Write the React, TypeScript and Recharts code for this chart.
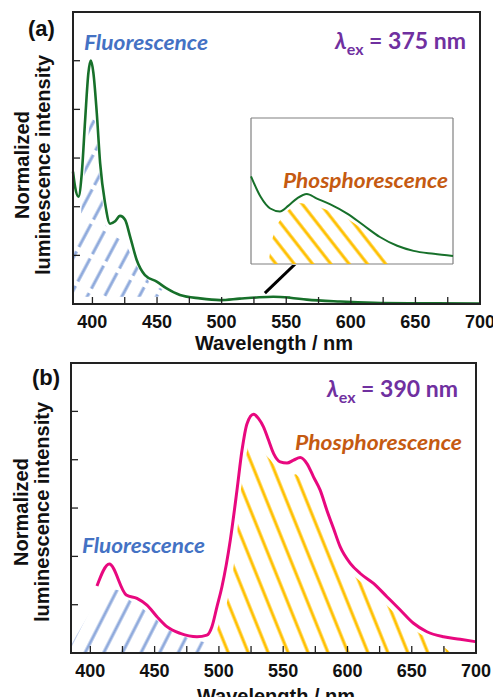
import { ComposedChart, Line, Area, XAxis, YAxis, ReferenceLine, CartesianGrid } from 'recharts'

// wavelength axis, shared by both panels
const X_MIN = 385
const X_MAX = 700
const Y_MAX = 1.2
const X_TICKS = [400, 425, 450, 475, 500, 525, 550, 575, 600, 625, 650, 675, 700]
const Y_TICKS = [0.2, 0.4, 0.6, 0.8, 1.0]

// (a) emission, excitation 375 nm
const wlA = [385, 386.6, 389.2, 391.8, 394.4, 396.9, 398.8, 400.8, 403.4, 406, 409.8, 413.7, 417.6, 421.4, 425.3, 429.2, 434.3, 440.7, 449.8, 457.5, 467.8, 483.3, 498.8, 514, 527, 540, 553, 566, 592, 618, 650, 700]
const intA = [0.544, 0.482, 0.441, 0.537, 0.757, 0.949, 1.0, 0.949, 0.785, 0.579, 0.415, 0.33, 0.34, 0.362, 0.346, 0.277, 0.181, 0.119, 0.092, 0.064, 0.037, 0.023, 0.016, 0.022, 0.027, 0.03, 0.026, 0.018, 0.01, 0.005, 0.003, 0.002]
const fluorHatchWlA = [385, 390, 394, 398, 400.5, 403, 406, 410, 414, 420, 424, 430, 435, 445, 458, 461]
const fluorHatchA = [0.25, 0.3, 0.55, 0.75, 0.82, 0.7, 0.5, 0.33, 0.27, 0.28, 0.27, 0.2, 0.15, 0.085, 0.05, 0.03]

// (a) inset, zoom on the phosphorescence band
const insetWl = [490, 500, 510, 520, 529, 538, 548, 558, 572, 590, 607, 624, 642, 659, 680, 700]
const insetInt = [0.6, 0.46, 0.38, 0.36, 0.4, 0.45, 0.48, 0.45, 0.41, 0.345, 0.265, 0.185, 0.125, 0.09, 0.07, 0.055]
const insetHatchWl = [508, 512, 517, 527, 539, 557, 588, 624, 641]
const insetHatch = [0, 0.17, 0.27, 0.36, 0.42, 0.4, 0.32, 0.16, 0]

// (b) emission, excitation 390 nm
const wlB = [405.2, 414.8, 428, 436.3, 444.1, 451.9, 459.6, 470, 483, 490.7, 494.6, 498.5, 502.4, 508.9, 514.1, 518, 521.9, 527, 530.9, 534.8, 538.7, 542.6, 547.7, 553, 558.1, 563.3, 568.5, 573.6, 578.8, 584, 589.2, 594.4, 602.2, 610, 620.3, 630.7, 641.1, 651.4, 661.8, 674.7, 687.7, 699.4]
const intB = [0.277, 0.368, 0.24, 0.226, 0.198, 0.15, 0.109, 0.081, 0.067, 0.074, 0.109, 0.191, 0.274, 0.467, 0.674, 0.839, 0.949, 0.988, 0.97, 0.935, 0.88, 0.825, 0.791, 0.786, 0.798, 0.809, 0.784, 0.729, 0.674, 0.591, 0.515, 0.439, 0.371, 0.329, 0.288, 0.233, 0.178, 0.123, 0.088, 0.067, 0.057, 0.047]
const fluorHatchWlB = [385, 389, 411, 422, 430, 439, 449, 459, 471, 481, 489, 491]
const fluorHatchB = [0.03, 0.07, 0.27, 0.26, 0.22, 0.19, 0.15, 0.1, 0.07, 0.055, 0.045, 0]
const phosHatchWlB = [493, 500, 506, 511, 513, 517, 520.5, 524, 540, 550, 560, 574, 589, 605, 620, 632, 645, 658, 670, 681]
const phosHatchB = [0, 0.12, 0.2, 0.34, 0.42, 0.67, 0.8, 0.89, 0.8, 0.73, 0.74, 0.67, 0.46, 0.32, 0.25, 0.19, 0.12, 0.075, 0.045, 0]

const rows = (wl: number[], v: number[]) => wl.map((w, i) => ({ wl: w, v: v[i] }))

const AXIS_FONT = { fill: '#111', fontSize: 18, fontWeight: 700, fontFamily: 'Liberation Sans, Arial, sans-serif' }
const NOTE_FONT = 'Lato, "Open Sans", sans-serif'
const BLUE_HATCH = '#8FAADC'
const ORANGE_HATCH = '#FFC000'
const FRAME = '#222'

// page layout: plot boxes of both panels, chart margins are derived from these
const W = 493
const X_AXIS_H = 30
const Y_AXIS_W = 1
const A = { top: 0, height: 345, left: 73, right: 480, plotTop: 12, plotBottom: 304 }
const B = { top: 340, height: 357, left: 71, right: 476, plotTop: 363, plotBottom: 653 }
const marginOf = (p: typeof A) => ({
  top: p.plotTop - p.top,
  right: W - p.right,
  left: p.left - Y_AXIS_W,
  bottom: p.top + p.height - p.plotBottom - X_AXIS_H,
})

const edgeRows = ({ offset }: any) => [offset.top, offset.top + offset.height]
const edgeCols = ({ offset }: any) => [offset.left, offset.left + offset.width]

function HatchDef({ id, color, gap, angle, dash }: { id: string; color: string; gap: number; angle: number; dash?: string }) {
  return (
    <pattern id={id} patternUnits="userSpaceOnUse" width={gap} height={31} patternTransform={`rotate(${angle})`}>
      <line x1={2} y1={0} x2={2} y2={31} stroke={color} strokeWidth={3} strokeDasharray={dash} />
    </pattern>
  )
}

const fmt50 = (v: number) => (v % 50 === 0 ? String(v) : '')

// box with inward ticks around a plot area, as filled bars
function PlotBox({ p }: { p: typeof A }) {
  const sx = (v: number) => p.left + ((v - X_MIN) / (X_MAX - X_MIN)) * (p.right - p.left)
  const sy = (v: number) => p.plotBottom - (v / Y_MAX) * (p.plotBottom - p.plotTop)
  const w = p.right - p.left
  const h = p.plotBottom - p.plotTop
  return (
    <g fill={FRAME} stroke="none">
      <rect x={p.left - 1} y={p.plotTop - 1} width={w + 2} height={2} />
      <rect x={p.left - 1} y={p.plotBottom - 1} width={w + 2} height={2} />
      <rect x={p.left - 1} y={p.plotTop - 1} width={2} height={h + 2} />
      <rect x={p.right - 1} y={p.plotTop - 1} width={2} height={h + 2} />
      {X_TICKS.map((t) => (
        <rect key={`x${t}`} x={sx(t) - 0.6} y={p.plotBottom - 7} width={1.3} height={7} />
      ))}
      {Y_TICKS.map((t) => (
        <rect key={`y${t}`} x={p.left} y={sy(t) - 0.6} width={7} height={1.3} />
      ))}
    </g>
  )
}

export default function App() {
  return (
    <div style={{ position: 'relative', width: W, height: 697, background: '#fff', overflow: 'hidden' }}>
      <style>{'body{margin:0}'}</style>

      {/* panel (a) */}
      <div style={{ position: 'absolute', left: 0, top: A.top }}>
        <ComposedChart width={W} height={A.height} margin={marginOf(A)}>
          <defs>
            <HatchDef id="hatchBlueA" color={BLUE_HATCH} gap={15.3} angle={28} dash="26 5" />
          </defs>
          <XAxis xAxisId="x" dataKey="wl" type="number" domain={[X_MIN, X_MAX]} ticks={X_TICKS} interval={0}
            tickFormatter={fmt50} tickSize={0} tickMargin={11} tickLine={false} axisLine={false} tick={AXIS_FONT} height={X_AXIS_H} />
          <YAxis yAxisId="y" type="number" domain={[0, Y_MAX]} tick={false} tickLine={false} axisLine={false} width={Y_AXIS_W} />
          <Area xAxisId="x" yAxisId="y" data={rows(fluorHatchWlA, fluorHatchA)} dataKey="v" type="linear" baseValue={0.03}
            fill="url(#hatchBlueA)" fillOpacity={1} stroke="none" isAnimationActive={false} />
          <Line xAxisId="x" yAxisId="y" data={rows(wlA, intA)} dataKey="v" type="monotone" stroke="#17702A" strokeWidth={2.6}
            dot={false} isAnimationActive={false} />
          <ReferenceLine xAxisId="x" yAxisId="y" segment={[{ x: 533.5, y: 0.045 }, { x: 562, y: 0.19 }]} stroke="#000" strokeWidth={3} />
        </ComposedChart>
      </div>

      {/* panel (b) */}
      <div style={{ position: 'absolute', left: 0, top: B.top }}>
        <ComposedChart width={W} height={B.height} margin={marginOf(B)}>
          <defs>
            <HatchDef id="hatchBlueB" color={BLUE_HATCH} gap={16.6} angle={27} />
            <HatchDef id="hatchOrangeB" color={ORANGE_HATCH} gap={18.5} angle={-22} />
          </defs>
          <XAxis xAxisId="x" dataKey="wl" type="number" domain={[X_MIN, X_MAX]} ticks={X_TICKS} interval={0}
            tickFormatter={fmt50} tickSize={0} tickMargin={11} tickLine={false} axisLine={false} tick={AXIS_FONT} height={X_AXIS_H} />
          <YAxis yAxisId="y" type="number" domain={[0, Y_MAX]} tick={false} tickLine={false} axisLine={false} width={Y_AXIS_W} />
          <Area xAxisId="x" yAxisId="y" data={rows(fluorHatchWlB, fluorHatchB)} dataKey="v" type="linear"
            fill="url(#hatchBlueB)" fillOpacity={1} stroke="none" isAnimationActive={false} />
          <Area xAxisId="x" yAxisId="y" data={rows(phosHatchWlB, phosHatchB)} dataKey="v" type="linear"
            fill="url(#hatchOrangeB)" fillOpacity={1} stroke="none" isAnimationActive={false} />
          <Line xAxisId="x" yAxisId="y" data={rows(wlB, intB)} dataKey="v" type="monotone" stroke="#E8087F" strokeWidth={3}
            dot={false} isAnimationActive={false} />
        </ComposedChart>
      </div>

      {/* inset of (a) */}
      <div style={{ position: 'absolute', left: 250, top: 117, background: '#fff' }}>
        <ComposedChart width={204} height={148} margin={{ top: 1, right: 1, left: 1, bottom: 1 }}>
          <defs>
            <HatchDef id="hatchInset" color={ORANGE_HATCH} gap={14.4} angle={-38} />
          </defs>
          <CartesianGrid xAxisId="i" yAxisId="i" horizontalCoordinatesGenerator={edgeRows} verticalCoordinatesGenerator={edgeCols}
            stroke="#808080" strokeWidth={1.2} />
          <XAxis xAxisId="i" dataKey="wl" type="number" domain={[490, 700]} hide />
          <YAxis yAxisId="i" type="number" domain={[0, 1]} hide />
          <Area xAxisId="i" yAxisId="i" data={rows(insetHatchWl, insetHatch)} dataKey="v" type="linear"
            fill="url(#hatchInset)" fillOpacity={1} stroke="none" isAnimationActive={false} />
          <Line xAxisId="i" yAxisId="i" data={rows(insetWl, insetInt)} dataKey="v" type="monotone" stroke="#17702A" strokeWidth={2}
            dot={false} isAnimationActive={false} />
        </ComposedChart>
      </div>

      {/* frames, titles and annotations on top */}
      <svg width={W} height={697} style={{ position: 'absolute', left: 0, top: 0, pointerEvents: 'none', zIndex: 5 }}>
        <PlotBox p={A} />
        <PlotBox p={B} />
        <g fontFamily="Liberation Sans, Arial, sans-serif" fontWeight={700} fill="#111">
          <text x={28} y={36} fontSize={22}>(a)</text>
          <text x={32} y={385} fontSize={22}>(b)</text>
          <text x={274} y={350} fontSize={20} textAnchor="middle">Wavelength / nm</text>
          <text x={276} y={703} fontSize={20} textAnchor="middle">Wavelength / nm</text>
          <text transform="translate(29,165) rotate(-90)" fontSize={20} textAnchor="middle">Normalized</text>
          <text transform="translate(50,165) rotate(-90)" fontSize={20} textAnchor="middle">luminescence intensity</text>
          <text transform="translate(28,512) rotate(-90)" fontSize={20} textAnchor="middle">Normalized</text>
          <text transform="translate(49,512) rotate(-90)" fontSize={20} textAnchor="middle">luminescence intensity</text>
        </g>
        <g fontFamily={NOTE_FONT} fontWeight={700}>
          <text x={84} y={50} fontSize={21} fontStyle="italic" fill="#4472C4" textLength={124} lengthAdjust="spacingAndGlyphs">Fluorescence</text>
          <text x={283} y={188} fontSize={21} fontStyle="italic" fill="#C55A11" textLength={165} lengthAdjust="spacingAndGlyphs">Phosphorescence</text>
          <text x={82} y={553} fontSize={21} fontStyle="italic" fill="#4472C4" textLength={123} lengthAdjust="spacingAndGlyphs">Fluorescence</text>
          <text x={295} y={450} fontSize={21} fontStyle="italic" fill="#C55A11" textLength={167} lengthAdjust="spacingAndGlyphs">Phosphorescence</text>
          <text x={335} y={49} fontSize={23} fill="#7030A0">
            <tspan fontStyle="italic">λ</tspan>
            <tspan dy={6} fontSize={16}>ex</tspan>
            <tspan dy={-6}> = 375 nm</tspan>
          </text>
          <text x={327} y={397} fontSize={23} fill="#7030A0">
            <tspan fontStyle="italic">λ</tspan>
            <tspan dy={6} fontSize={16}>ex</tspan>
            <tspan dy={-6}> = 390 nm</tspan>
          </text>
        </g>
      </svg>
    </div>
  )
}
